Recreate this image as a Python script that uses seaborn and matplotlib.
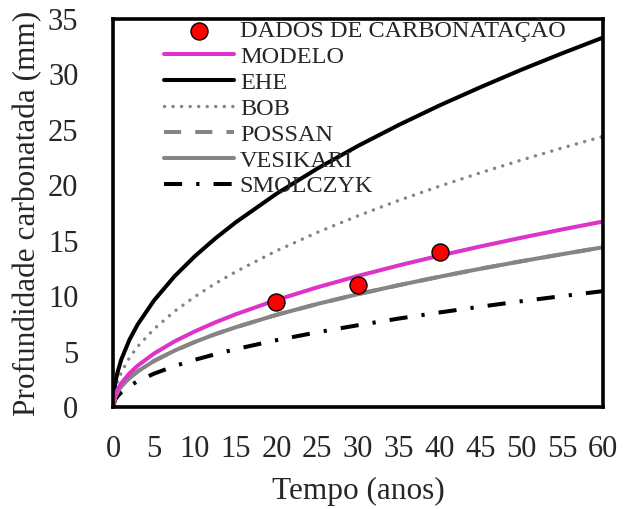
import pandas as pd
import seaborn as sns
import matplotlib.pyplot as plt

# time axis (anos) and depth readings (mm) taken from the chart
tempo = [0, 0.25, 0.5, 1, 2, 3, 5, 7.5, 10, 12.5, 15, 20, 25, 30, 35, 40, 45, 50, 55, 60]
modelo = [0, 1.08, 1.53, 2.16, 3.05, 3.74, 4.83, 5.92, 6.83, 7.64, 8.37, 9.66, 10.8, 11.83, 12.78, 13.66, 14.49, 15.27, 16.02, 16.73]
ehe = [0, 2.15, 3.04, 4.3, 6.08, 7.45, 9.61, 11.78, 13.6, 15.2, 16.65, 19.23, 21.5, 23.55, 25.44, 27.2, 28.84, 30.41, 31.89, 33.31]
bob = [0, 1.58, 2.23, 3.15, 4.45, 5.46, 7.04, 8.63, 9.96, 11.14, 12.2, 14.09, 15.75, 17.25, 18.64, 19.92, 21.13, 22.27, 23.36, 24.4]
possan = [0, 0.93, 1.32, 1.86, 2.63, 3.22, 4.16, 5.09, 5.88, 6.58, 7.2, 8.32, 9.3, 10.19, 11.0, 11.76, 12.48, 13.15, 13.79, 14.41]
vesikari = [0, 0.93, 1.32, 1.86, 2.63, 3.22, 4.16, 5.09, 5.88, 6.58, 7.2, 8.32, 9.3, 10.19, 11.0, 11.76, 12.48, 13.15, 13.79, 14.41]
smolczyk = [0, 0.68, 0.95, 1.35, 1.91, 2.34, 3.02, 3.7, 4.27, 4.77, 5.23, 6.04, 6.75, 7.39, 7.99, 8.54, 9.06, 9.55, 10.01, 10.46]

# measured carbonation depths
dados_t = [20, 30, 40]
dados_x = [9.45, 10.97, 14.0]

sns.set_style('white')
plt.rcParams['font.family'] = ['Liberation Serif', 'DejaVu Serif']

fig = plt.figure(figsize=(6.32, 5.09), dpi=100)
ax = fig.add_axes([0.179, 0.2, 0.775, 0.763])

curvas = pd.DataFrame({'t': tempo, 'MODELO': modelo, 'EHE': ehe, 'BOB': bob,
                       'POSSAN': possan, 'VESIKARI': vesikari, 'SMOLCZYK': smolczyk})
dados = pd.DataFrame({'t': dados_t, 'x': dados_x})

lw = 2.9
sns.lineplot(data=curvas, x='t', y='SMOLCZYK', ax=ax, color='black', lw=lw,
             label='SMOLCZYK', ls=(0, (4.5, 3.5, 0.8, 3.5)))
sns.lineplot(data=curvas, x='t', y='POSSAN', ax=ax, color='#858585', lw=lw,
             label='POSSAN', ls=(0, (4.25, 3.5)))
sns.lineplot(data=curvas, x='t', y='VESIKARI', ax=ax, color='#858585', lw=lw,
             label='VESIKARI')
sns.lineplot(data=curvas, x='t', y='BOB', ax=ax, color='#858585', lw=2.5,
             label='BOB', ls=(0, (0.01, 2.45)), dash_capstyle='round')
sns.lineplot(data=curvas, x='t', y='EHE', ax=ax, color='black', lw=lw,
             label='EHE')
sns.lineplot(data=curvas, x='t', y='MODELO', ax=ax, color='#DD33C8', lw=lw,
             label='MODELO')
sns.scatterplot(data=dados, x='t', y='x', ax=ax, color='red', edgecolor='black',
                linewidth=1, s=150, zorder=5, label='DADOS DE CARBONATAÇÃO')

ax.set_xlim(0, 60)
ax.set_ylim(0, 35)
ax.set_xticks(range(0, 61, 5))
ax.set_yticks(range(0, 36, 5))
ax.tick_params(length=0, labelsize=22)
ax.tick_params(axis='x', pad=20)
ax.tick_params(axis='y', pad=25)
ax.set_xlabel('Tempo (anos)', fontsize=22.5, labelpad=9)
ax.set_ylabel('Profundidade carbonatada (mm)', fontsize=22.5, labelpad=4)
for s in ax.spines.values():
    s.set_color('black')
    s.set_linewidth(2.6)

h, l = ax.get_legend_handles_labels()
ordem = ['DADOS DE CARBONATAÇÃO', 'MODELO', 'EHE', 'BOB', 'POSSAN', 'VESIKARI', 'SMOLCZYK']
h = [h[l.index(n)] for n in ordem]
ax.legend(h, ordem, loc='upper left', bbox_to_anchor=(0.084, 1.027), frameon=False,
          fontsize=17.5, handlelength=2.87, handletextpad=0.25, labelspacing=0.16,
          borderaxespad=0)

fig.savefig('out.png', dpi=100)
